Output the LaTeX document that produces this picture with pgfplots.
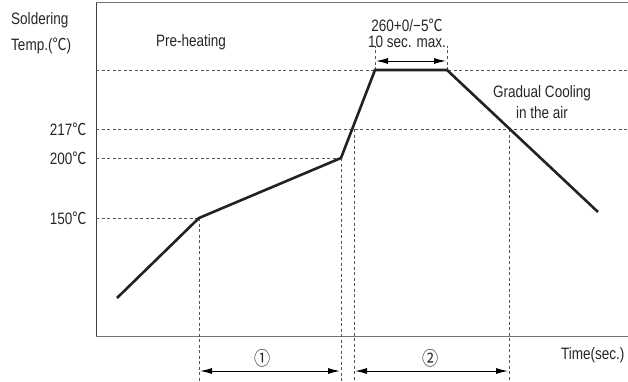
\documentclass[border=0pt]{standalone}
\usepackage{pgfplots}
\pgfplotsset{compat=1.18}
\usepackage{fontspec}
\setmainfont{Liberation Sans}[FakeStretch=0.82]
\newfontfamily\cjk{Noto Sans CJK KR}[FakeStretch=0.85]
\usetikzlibrary{arrows.meta}
\newcommand{\dc}{{\cjk ℃}}
\definecolor{curve}{HTML}{222222}
\definecolor{guide}{HTML}{555555}
\begin{document}
\begin{tikzpicture}[x=1pt,y=1pt]
\begin{axis}[
  at={(96pt,45pt)}, anchor=south west,
  scale only axis, width=532pt, height=333pt,
  xmin=0, xmax=532, ymin=0, ymax=333,
  axis x line*=box, axis y line*=left,
  x axis line style={draw=black!55, line width=1pt},
  y axis line style={draw=black!75, line width=1pt},
  xtick=\empty,
  ytick={118,178,207},
  yticklabels={150\dc,200\dc,217\dc},
  major tick length=0pt,
  yticklabel style={font=\fontsize{16.5}{18}\selectfont, text=black!85, xshift=-6pt},
  clip=false,
  font=\fontsize{16.5}{18}\selectfont,
]
% guide lines
\draw[guide, dashed, dash pattern=on 3pt off 2.5pt, line width=0.8pt]
  (axis cs:0,266) -- (axis cs:532,266)
  (axis cs:0,207) -- (axis cs:532,207)
  (axis cs:0,178) -- (axis cs:245,178)
  (axis cs:0,118) -- (axis cs:103,118)
  (axis cs:103,118) -- (axis cs:103,-45)
  (axis cs:245,178) -- (axis cs:245,-45)
  (axis cs:258,207) -- (axis cs:258,-45)
  (axis cs:413,207) -- (axis cs:413,-45)
  (axis cs:279,266) -- (axis cs:279,290)
  (axis cs:351,266) -- (axis cs:351,290);
% profile
\addplot[curve, line width=2.6pt, line join=miter] coordinates {
  (21,38) (103,118) (245,178) (279,266) (351,266) (502,124)
};
% arrows
\draw[black, line width=1pt, {Latex[length=12pt,width=6pt]}-{Latex[length=12pt,width=6pt]}]
  (axis cs:104,-35) -- (axis cs:244,-35);
\draw[black, line width=1pt, {Latex[length=12pt,width=6pt]}-{Latex[length=12pt,width=6pt]}]
  (axis cs:259,-35) -- (axis cs:412,-35);
\draw[black, line width=1pt, {Latex[length=12pt,width=6pt]}-{Latex[length=12pt,width=6pt]}]
  (axis cs:280,275) -- (axis cs:350,275);
% texts
\node[text=black!85, font=\fontsize{19}{20}\selectfont] at (axis cs:167,-22) {\cjk ①};
\node[text=black!85, font=\fontsize{19}{20}\selectfont] at (axis cs:335,-22) {\cjk ②};
\node[anchor=east, text=black!85] at (axis cs:532,-19) {Time(sec.)};
\node[text=black!85] at (axis cs:311,311) {260+0/\textminus5\dc};
\node[text=black!85] at (axis cs:311,294) {10 sec. max.};
\node[text=black!85] at (axis cs:446,243) {Gradual Cooling};
\node[text=black!85] at (axis cs:446,223) {in the air};
\node[text=black!85] at (axis cs:95,294) {Pre-heating};
\node[anchor=west, text=black!85, inner sep=0pt] at (axis cs:-85,316) {Soldering};
\node[anchor=west, text=black!85, inner sep=0pt] at (axis cs:-85,290) {Temp.(\dc)};
\end{axis}
\pgfresetboundingbox
\path (0,0) rectangle (628,381);
\end{tikzpicture}
\end{document}
